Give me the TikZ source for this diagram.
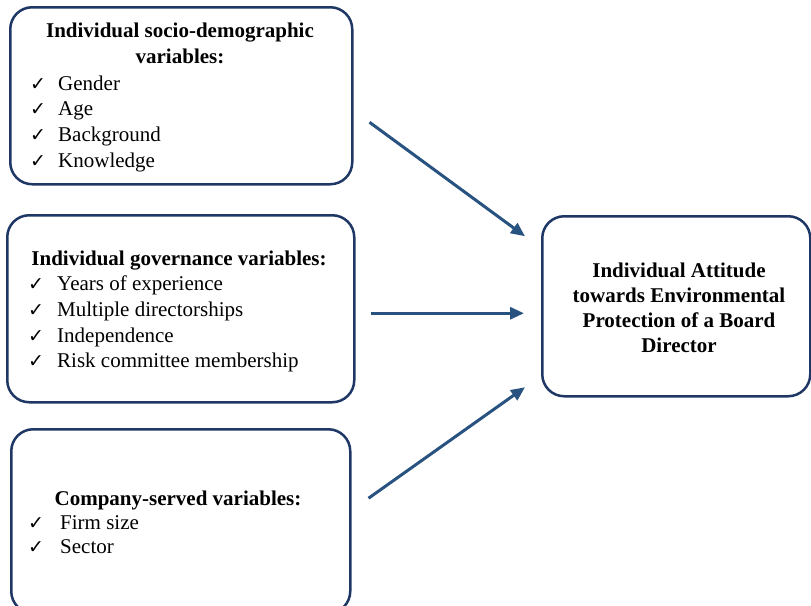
\documentclass[tikz,border=0pt]{standalone}
\usepackage{fontspec}
\setmainfont{Liberation Serif}
\newfontfamily\symfont{DejaVu Sans}
\usetikzlibrary{arrows.meta,calc}
\definecolor{boxcol}{RGB}{30,55,100}
\definecolor{arrcol}{RGB}{40,82,128}
\begin{document}
\begin{tikzpicture}[x=1pt,y=-1pt,
  box/.style={draw=boxcol, line width=2.5pt, rounded corners=22pt, fill=white, inner sep=0pt},
  head/.style={font=\fontsize{21}{25}\selectfont\bfseries, anchor=base, inner sep=0pt},
  item/.style={font=\fontsize{21}{25}\selectfont, anchor=base west, inner sep=0pt},
  chk/.style={font=\fontsize{19}{21}\symfont, anchor=base west, inner sep=0pt},
  arr/.style={draw=arrcol, line width=3pt, -{Triangle[length=14pt,width=12pt]}}]
\useasboundingbox (0,0) rectangle (811,605);

% boxes
\node[box, anchor=north west, minimum width=342pt, minimum height=177pt] (b1) at (9,6) {};
\node[box, anchor=north west, minimum width=347pt, minimum height=187pt] (b2) at (6,214) {};
\node[box, anchor=north west, minimum width=339pt, minimum height=184pt] (b3) at (10,428) {};
\node[box, anchor=north west, minimum width=268pt, minimum height=180pt] (tgt) at (541,215) {};

% box 1
\node[head] (h1a) at (180,37) {Individual socio-demographic};
\node[head] (h1b) at (180,63) {variables:};
\node[chk] (c11) at (30,90) {✓}; \node[item] (i11) at (58,90) {Gender};
\node[chk] (c12) at (30,115) {✓}; \node[item] (i12) at (58,115) {Age};
\node[chk] (c13) at (30,141) {✓}; \node[item] (i13) at (58,141) {Background};
\node[chk] (c14) at (30,167) {✓}; \node[item] (i14) at (58,167) {Knowledge};

% box 2
\node[head] (h2) at (179,265) {Individual governance variables:};
\node[chk] (c21) at (28,290) {✓}; \node[item] (i21) at (57,290) {Years of experience};
\node[chk] (c22) at (28,316) {✓}; \node[item] (i22) at (57,316) {Multiple directorships};
\node[chk] (c23) at (28,342) {✓}; \node[item] (i23) at (57,342) {Independence};
\node[chk] (c24) at (28,367) {✓}; \node[item] (i24) at (57,367) {Risk committee membership};

% box 3
\node[head] (h3) at (178,505) {Company-served variables:};
\node[chk] (c31) at (28,529) {✓}; \node[item] (i31) at (60,529) {Firm size};
\node[chk] (c32) at (28,553) {✓}; \node[item] (i32) at (60,553) {Sector};

% target
\node[head] (t1) at (679,277) {Individual Attitude};
\node[head] (t2) at (679,302) {towards Environmental};
\node[head] (t3) at (679,327) {Protection of a Board};
\node[head] (t4) at (679,352) {Director};

% arrows
\draw[arr] ($(b1.east)+(16,26.5)$) -- ($(tgt.west)+(-16,-70)$);
\draw[arr] ($(b2.east)+(15,4.5)$) -- ($(tgt.west)+(-17,7)$);
\draw[arr] ($(b3.east)+(17,-23)$) -- ($(tgt.west)+(-16,81)$);
\end{tikzpicture}
\end{document}
